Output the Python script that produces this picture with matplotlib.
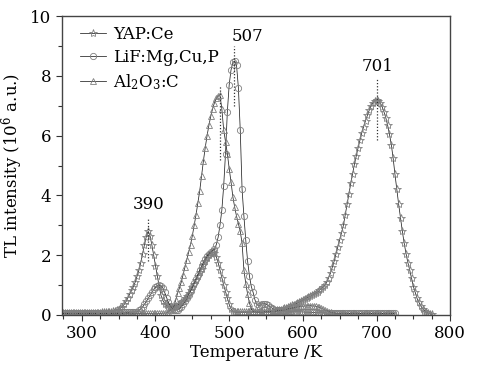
import matplotlib
matplotlib.use("Agg")
import matplotlib.pyplot as plt
from matplotlib.ticker import MultipleLocator
import numpy as np


plt.rcParams["font.family"] = "DejaVu Serif"
plt.rcParams["mathtext.fontset"] = "dejavuserif"

# Temperature grids (K)
t_yap = np.arange(275.0, 777.5, 2.5)
t_lif = np.arange(275.0, 727.5, 2.5)
t_alo = np.arange(275.0, 727.5, 2.5)

# TL intensity (10^6 a.u.), one row per 25 K
yap_intensity = [
    0.05, 0.05, 0.05, 0.06, 0.05, 0.05, 0.06, 0.05, 0.05, 0.06,  # 275
    0.05, 0.06, 0.06, 0.05, 0.06, 0.06, 0.07, 0.06, 0.07, 0.07,  # 300
    0.07, 0.08, 0.08, 0.09, 0.10, 0.10, 0.11, 0.12, 0.14, 0.16,  # 325
    0.18, 0.22, 0.28, 0.35, 0.45, 0.57, 0.70, 0.82, 0.95, 1.10,  # 350
    1.30, 1.50, 1.75, 2.05, 2.35, 2.62, 2.80, 2.65, 2.35, 2.00,  # 375
    1.65, 1.30, 0.95, 0.65, 0.48, 0.38, 0.32, 0.28, 0.27, 0.27,  # 400
    0.28, 0.30, 0.33, 0.37, 0.42, 0.48, 0.55, 0.63, 0.72, 0.82,  # 425
    0.93, 1.05, 1.17, 1.30, 1.42, 1.55, 1.67, 1.80, 1.90, 2.00,  # 450
    2.07, 2.10, 2.07, 1.95, 1.75, 1.50, 1.25, 1.00, 0.78, 0.55,  # 475
    0.35, 0.20, 0.12, 0.09, 0.08, 0.08, 0.08, 0.08, 0.08, 0.08,  # 500
    0.08, 0.08, 0.08, 0.08, 0.08, 0.08, 0.08, 0.09, 0.09, 0.09,  # 525
    0.09, 0.10, 0.10, 0.11, 0.12, 0.13, 0.15, 0.16, 0.18, 0.20,  # 550
    0.22, 0.24, 0.27, 0.29, 0.32, 0.34, 0.37, 0.40, 0.43, 0.46,  # 575
    0.50, 0.53, 0.56, 0.59, 0.62, 0.66, 0.70, 0.73, 0.77, 0.82,  # 600
    0.88, 0.94, 1.00, 1.10, 1.25, 1.40, 1.60, 1.80, 2.05, 2.28,  # 625
    2.50, 2.75, 3.00, 3.35, 3.70, 4.05, 4.40, 4.72, 5.05, 5.33,  # 650
    5.60, 5.85, 6.10, 6.30, 6.50, 6.68, 6.85, 7.00, 7.10, 7.17,  # 675
    7.20, 7.17, 7.10, 6.97, 6.80, 6.60, 6.35, 6.05, 5.70, 5.25,  # 700
    4.70, 4.20, 3.70, 3.25, 2.80, 2.40, 2.05, 1.75, 1.50, 1.22,  # 725
    0.95, 0.75, 0.55, 0.42, 0.30, 0.21, 0.14, 0.10, 0.06, 0.04,  # 750
    0.02,                                                        # 775
]

lif_intensity = [
    0.05, 0.06, 0.05, 0.05, 0.06, 0.05, 0.05, 0.06, 0.05, 0.05,  # 275
    0.05, 0.05, 0.06, 0.05, 0.05, 0.06, 0.05, 0.05, 0.06, 0.05,  # 300
    0.05, 0.05, 0.06, 0.05, 0.06, 0.06, 0.06, 0.06, 0.07, 0.07,  # 325
    0.07, 0.07, 0.08, 0.08, 0.08, 0.08, 0.09, 0.09, 0.09, 0.10,  # 350
    0.10, 0.15, 0.20, 0.27, 0.35, 0.45, 0.55, 0.65, 0.75, 0.85,  # 375
    0.92, 0.98, 1.00, 0.98, 0.90, 0.75, 0.58, 0.42, 0.30, 0.22,  # 400
    0.18, 0.17, 0.18, 0.22, 0.28, 0.35, 0.45, 0.55, 0.67, 0.80,  # 425
    0.93, 1.07, 1.20, 1.35, 1.50, 1.63, 1.75, 1.87, 1.97, 2.05,  # 450
    2.10, 2.15, 2.20, 2.35, 2.60, 3.00, 3.50, 4.30, 5.40, 6.80,  # 475
    7.70, 8.20, 8.45, 8.50, 8.35, 7.60, 6.20, 4.20, 3.30, 2.50,  # 500
    1.80, 1.30, 0.95, 0.75, 0.50, 0.35, 0.30, 0.33, 0.37, 0.38,  # 525
    0.36, 0.32, 0.28, 0.24, 0.20, 0.18, 0.17, 0.16, 0.15, 0.14,  # 550
    0.14, 0.13, 0.13, 0.12, 0.12, 0.11, 0.11, 0.10, 0.10, 0.10,  # 575
    0.10, 0.09, 0.09, 0.09, 0.08, 0.08, 0.08, 0.08, 0.07, 0.07,  # 600
    0.07, 0.07, 0.07, 0.06, 0.06, 0.06, 0.06, 0.06, 0.06, 0.06,  # 625
    0.05, 0.05, 0.06, 0.05, 0.05, 0.05, 0.06, 0.05, 0.05, 0.05,  # 650
    0.05, 0.05, 0.05, 0.06, 0.05, 0.05, 0.05, 0.05, 0.06, 0.05,  # 675
    0.05, 0.05, 0.05, 0.05, 0.06, 0.05, 0.05, 0.05, 0.05, 0.05,  # 700
    0.05,                                                        # 725
]

alo_intensity = [
    0.04, 0.04, 0.05, 0.04, 0.04, 0.05, 0.04, 0.04, 0.05, 0.04,  # 275
    0.04, 0.05, 0.04, 0.04, 0.05, 0.04, 0.04, 0.05, 0.04, 0.04,  # 300
    0.05, 0.04, 0.04, 0.05, 0.04, 0.04, 0.05, 0.04, 0.04, 0.05,  # 325
    0.04, 0.04, 0.05, 0.04, 0.05, 0.05, 0.04, 0.05, 0.05, 0.05,  # 350
    0.05, 0.05, 0.05, 0.05, 0.05, 0.05, 0.05, 0.05, 0.05, 0.05,  # 375
    0.05, 0.05, 0.05, 0.05, 0.06, 0.06, 0.07, 0.10, 0.15, 0.20,  # 400
    0.30, 0.50, 0.73, 0.90, 1.10, 1.35, 1.60, 1.85, 2.10, 2.35,  # 425
    2.65, 3.00, 3.35, 3.75, 4.15, 4.65, 5.15, 5.60, 6.00, 6.35,  # 450
    6.65, 6.90, 7.10, 7.25, 7.33, 7.35, 6.90, 6.20, 5.80, 5.40,  # 475
    4.90, 4.45, 3.95, 3.60, 3.30, 3.05, 2.80, 2.40, 1.50, 1.05,  # 500
    0.70, 0.40, 0.20, 0.12, 0.10, 0.09, 0.09, 0.09, 0.09, 0.10,  # 525
    0.10, 0.10, 0.10, 0.11, 0.11, 0.12, 0.13, 0.14, 0.15, 0.16,  # 550
    0.17, 0.18, 0.20, 0.21, 0.22, 0.24, 0.25, 0.27, 0.28, 0.29,  # 575
    0.29, 0.30, 0.30, 0.31, 0.31, 0.30, 0.30, 0.29, 0.27, 0.25,  # 600
    0.23, 0.20, 0.17, 0.14, 0.11, 0.09, 0.07, 0.06, 0.05, 0.05,  # 625
    0.05, 0.04, 0.05, 0.04, 0.04, 0.05, 0.04, 0.04, 0.05, 0.04,  # 650
    0.04, 0.05, 0.04, 0.04, 0.05, 0.04, 0.04, 0.05, 0.04, 0.04,  # 675
    0.05, 0.04, 0.04, 0.05, 0.04, 0.04, 0.05, 0.04, 0.04, 0.04,  # 700
    0.04,                                                        # 725
]

labels = ["YAP:Ce", "LiF:Mg,Cu,P", r"Al$_2$O$_3$:C"]
markers = ["*", "o", "^"]

# peak labels and the dotted marker lines through the peaks
peak_t = [390, 507, 701, 487]
peak_text = ["390", "507", "701", ""]
peak_text_x = [390, 525, 702, 487]
peak_text_y = [3.7, 9.33, 8.3, 0]
peak_line_top = [3.2, 9.0, 7.9, 7.7]
peak_line_bottom = [1.8, 7.0, 5.85, 5.2]

marker_colour = "#808080"
line_colour = "#222222"

figure = plt.figure(figsize=(4.8, 3.67), dpi=100)
axes = figure.add_axes([0.129, 0.142, 0.809, 0.814])

series = [
    (t_yap, yap_intensity),
    (t_lif, lif_intensity),
    (t_alo, alo_intensity),
]

handles = []
for (t, v), label, marker in zip(series, labels, markers):
    size = 6.0 if marker == "*" else 4.5
    line, = axes.plot(
        t, v, color=line_colour, linewidth=0.55,
        marker=marker, markersize=size, markerfacecolor="none",
        markeredgecolor=marker_colour, markeredgewidth=0.6,
        label=label)
    handles.append(line)

for t, text, tx, ty, top, bottom in zip(
        peak_t, peak_text, peak_text_x, peak_text_y,
        peak_line_top, peak_line_bottom):
    axes.plot([t, t], [bottom, top], linestyle=(0, (1, 1.5)),
        color="#333333", linewidth=0.9)
    if text:
        axes.text(tx, ty, text, ha="center", va="center", fontsize=12)

axes.set_xlim(273, 800)
axes.set_ylim(0, 10)
axes.xaxis.set_major_locator(MultipleLocator(100))
axes.xaxis.set_minor_locator(MultipleLocator(25))
axes.yaxis.set_major_locator(MultipleLocator(2))
axes.yaxis.set_minor_locator(MultipleLocator(1))
axes.tick_params(which="both", direction="out", labelsize=12,
    top=False, right=False, color="#333333")
axes.tick_params(which="major", length=4, width=0.8)
axes.tick_params(which="minor", length=3, width=0.8)
for spine in axes.spines.values():
    spine.set_color("#444444")
    spine.set_linewidth(1.0)

axes.set_xlabel("Temperature /K", fontsize=12, labelpad=1)
axes.set_ylabel(r"TL intensity (10$^6$ a.u.)", fontsize=12, labelpad=4)

axes.legend(handles=handles, loc="upper left", frameon=False, fontsize=12,
    handlelength=1.6, handletextpad=0.4, labelspacing=0.35,
    borderaxespad=0.2, bbox_to_anchor=(0.02, 1.0))

plt.savefig("out.png", dpi=100)
plt.close()
